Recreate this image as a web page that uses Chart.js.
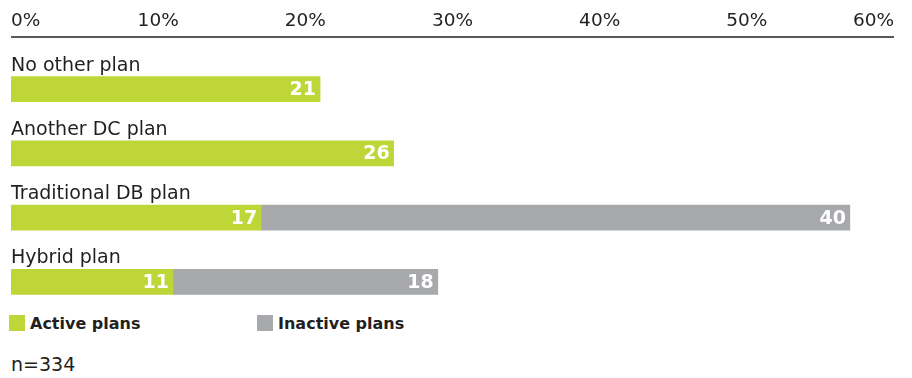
<!DOCTYPE html>
<html>
<head>
<meta charset="utf-8">
<script src="https://cdn.jsdelivr.net/npm/chart.js@4"></script>
<style>
    body { margin: 0; background: #fff; font-family: "DejaVu Sans", sans-serif; color: #231f20; }
    .wrap { position: relative; width: 912px; height: 378px; }
    canvas { position: absolute; left: 0; top: 0; }
    .legenda { position: absolute; top: 315px; left: 9px; height: 16px; font-weight: bold; font-size: 16px; }
    .legenda .item { display: flex; align-items: center; position: absolute; top: 0; height: 16px; white-space: nowrap; }
    .legenda .box { width: 16px; height: 16px; margin-right: 5px; }
    .nota { position: absolute; left: 11px; top: 353px; font-size: 19px; }
</style>
</head>
<body>
<div class="wrap">
    <canvas id="chartPlanos" width="912" height="314"></canvas>
    <div class="legenda" id="legenda"></div>
    <div class="nota">n=334</div>
</div>
<script>
const categorias = ['No other plan', 'Another DC plan', 'Traditional DB plan', 'Hybrid plan'];
const ativos = [21, 26, 17, 11];
const inativos = [null, null, 40, 18];
const series = ['Active plans', 'Inactive plans'];
const cores = ['#bed637', '#a7a9ac'];
const escalaMax = 60;
const passoTick = 10;

// linha do eixo superior, deslocada acima da area do grafico
const linhaEixo = {
    id: 'linhaEixo',
    afterDraw(chart) {
        const { ctx, chartArea } = chart;
        const y = chartArea.top - 20;
        ctx.save();
        ctx.strokeStyle = '#58595b';
        ctx.lineWidth = 2;
        ctx.beginPath();
        ctx.moveTo(chartArea.left, y);
        ctx.lineTo(chartArea.right, y);
        ctx.stroke();
        ctx.restore();
    }
};

// nomes das categorias acima das barras e valores dentro delas
const rotulos = {
    id: 'rotulos',
    afterDatasetsDraw(chart) {
        const { ctx, chartArea } = chart;
        ctx.save();
        const base = chart.getDatasetMeta(0).data;
        ctx.fillStyle = '#231f20';
        ctx.font = '19px "DejaVu Sans"';
        ctx.textAlign = 'left';
        ctx.textBaseline = 'alphabetic';
        base.forEach((bar, i) => {
            ctx.fillText(categorias[i], chartArea.left, bar.y - bar.height / 2 - 6);
        });

        ctx.fillStyle = '#fff';
        ctx.font = 'bold 19px "DejaVu Sans"';
        ctx.textAlign = 'right';
        ctx.textBaseline = 'middle';
        chart.data.datasets.forEach((ds, d) => {
            chart.getDatasetMeta(d).data.forEach((bar, i) => {
                const v = ds.data[i];
                if (v == null) return;
                ctx.fillText(String(v), bar.x - 4, bar.y + 1);
            });
        });
        ctx.restore();
    }
};

const chartPlanos = new Chart(document.getElementById('chartPlanos'), {
    type: 'bar',
    data: {
        labels: categorias,
        datasets: [
            { label: series[0], data: ativos, backgroundColor: cores[0], barThickness: 25 },
            { label: series[1], data: inativos, backgroundColor: cores[1], barThickness: 25 }
        ]
    },
    options: {
        indexAxis: 'y',
        responsive: false,
        animation: false,
        layout: { padding: { left: 11, right: 18, top: 0, bottom: 0 } },
        plugins: {
            legend: { display: false },
            tooltip: { enabled: false }
        },
        scales: {
            x: {
                position: 'top',
                stacked: true,
                min: 0,
                max: escalaMax,
                grid: { display: false, drawTicks: false },
                border: { display: false },
                ticks: {
                    stepSize: passoTick,
                    align: 'inner',
                    padding: 25,
                    color: '#231f20',
                    font: { family: 'DejaVu Sans', size: 18.5 },
                    callback: v => v + '%'
                },
                afterFit(scale) {
                    scale.height = 57;
                    scale.paddingLeft = 0;
                    scale.paddingRight = 0;
                }
            },
            y: {
                stacked: true,
                display: false,
                grid: { display: false }
            }
        }
    },
    plugins: [linhaEixo, rotulos]
});

// legenda em HTML a partir dos datasets
const legenda = document.getElementById('legenda');
const posicoes = [0, 248];
chartPlanos.data.datasets.forEach((ds, i) => {
    const item = document.createElement('div');
    item.className = 'item';
    item.style.left = posicoes[i] + 'px';
    item.innerHTML = `<span class="box" style="background:${ds.backgroundColor}"></span>${ds.label}`;
    legenda.appendChild(item);
});
</script>
</body>
</html>
